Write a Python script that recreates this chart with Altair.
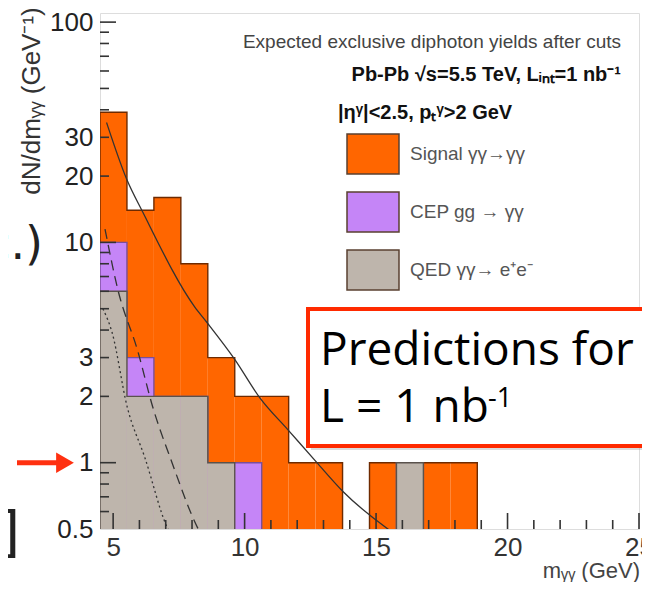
import altair as alt
import pandas as pd

# ---------------- data ----------------
edges = [4.5, 5.525, 6.55, 7.575, 8.6, 9.625, 10.65, 11.675, 12.7, 13.725,
         14.75, 15.775, 16.8, 17.825, 18.85]
signal = [29, 11, 14, 6, 2, 1, 2, 1, 1, 0, 1, 0, 1, 1]
cep = [4, 1, 0, 0, 0, 1, 0, 0, 0, 0, 0, 0, 0, 0]
qed = [6, 2, 2, 2, 1, 0, 0, 0, 0, 0, 0, 1, 0, 0]

solid_m = [4.75, 5.52, 6.13, 8.1, 8.57, 9.63, 10.58, 11.65, 12.75, 13.74, 15.45, 16.0]
solid_v = [35, 19.3, 13.7, 5.1, 4.33, 2.94, 1.97, 1.41, 1.0, 0.74, 0.5, 0.45]
dashed_m = [4.69, 5.18, 5.94, 6.5, 7.24, 8.2, 8.4]
dashed_v = [11.5, 6.1, 3.2, 1.8, 1.0, 0.51, 0.46]
dotted_m = [4.61, 4.96, 5.53, 6.2, 7.05, 7.2]
dotted_v = [5.0, 3.9, 1.8, 1.06, 0.51, 0.47]

x_labels = [5, 10, 15, 20, 25]
x_minor = [6, 7, 8, 9, 11, 12, 13, 14, 16, 17, 18, 19, 21, 22, 23, 24]
y_labels = [0.5, 1, 2, 3, 10, 20, 30, 100]
y_major = [1, 10, 100]
y_minor = [0.6, 0.7, 0.8, 0.9, 2, 3, 4, 5, 6, 7, 8, 9, 20, 30, 40, 50, 60, 70, 80, 90]

names = ["Signal γγ→γγ", "CEP gg → γγ", "QED γγ→ e⁺e⁻"]
fills = ["#ff6600", "#c585f7", "#beb5ac"]
outlines = ["#6e2a00", "#7a4f9a", "#5a524c"]

W, H = 539, 516
X0, X1 = 4.5, 25
Y0, Y1 = 0.5, 110
FLOOR = 0.3

h_qed = list(qed)
h_cep = [a + b for a, b in zip(qed, cep)]
h_tot = [a + b + c for a, b, c in zip(qed, cep, signal)]
hists = [h_tot, h_cep, h_qed]

xs = alt.Scale(domain=[X0, X1], nice=False, zero=False)
ys = alt.Scale(type="log", domain=[Y0, Y1], nice=False)
FONT = "Liberation Sans"

layers = []
for k, (h, name) in enumerate(zip(hists, names)):
    rows = [{"lo": edges[i], "hi": edges[i + 1], "top": v, "comp": name}
            for i, v in enumerate(h) if v > 0]
    rect = alt.Chart(pd.DataFrame(rows)).mark_rect(strokeWidth=0, clip=True).encode(
        x=alt.X("lo:Q", scale=xs, axis=alt.Axis(
            values=x_labels, format="d", ticks=False, domain=False, grid=False,
            labelFont=FONT, labelFontSize=26, labelColor="#333", labelPadding=5,
            labelFlush=False, title=None)),
        x2="hi:Q",
        y=alt.Y("top:Q", scale=ys, axis=alt.Axis(
            values=y_labels, format="~g", ticks=False, domain=False, grid=False,
            labelFont=FONT, labelFontSize=26, labelColor="#222", labelPadding=7,
            labelFlush=False, title=None)),
        y2=alt.value(H),
        color=alt.Color("comp:N", scale=alt.Scale(domain=names, range=fills),
                        legend=alt.Legend(
                            orient="none", legendX=246, legendY=114, title=None,
                            symbolType="M-1,-0.77H1V0.77H-1Z", symbolSize=2704,
                            symbolStrokeColor="#5a4030", symbolStrokeWidth=1.5,
                            symbolOpacity=1, labelFont=FONT, labelFontSize=19,
                            labelColor="#555", rowPadding=7, labelOffset=10,
                            padding=0)),
    )
    pts = [{"m": edges[0], "v": FLOOR}]
    for i, v in enumerate(h):
        vv = v if v > 0 else FLOOR
        pts.append({"m": edges[i], "v": vv})
        pts.append({"m": edges[i + 1], "v": vv})
    pts.append({"m": edges[-1], "v": FLOOR})
    odf = pd.DataFrame(pts)
    odf["i"] = range(len(odf))
    line = alt.Chart(odf).mark_line(color=outlines[k], strokeWidth=1.4, clip=True).encode(
        x=alt.X("m:Q", scale=xs), y=alt.Y("v:Q", scale=ys), order="i:Q")
    layers += [rect, line]

def curve(m, v, dash):
    df = pd.DataFrame({"m": m, "v": v})
    mk = dict(color="#333", strokeWidth=1.3, clip=True, interpolate="monotone")
    if dash:
        mk["strokeDash"] = dash
    return alt.Chart(df).mark_line(**mk).encode(
        x=alt.X("m:Q", scale=xs), y=alt.Y("v:Q", scale=ys))

layers += [curve(solid_m, solid_v, None), curve(dashed_m, dashed_v, [10, 6]),
           curve(dotted_m, dotted_v, [2, 3])]

# inside ticks (ROOT style) drawn as two-point segments; length in px -> data units
tick_rows = []
tid = 0
for vals, length_px in [(y_major, 16), (y_minor, 9)]:
    for v in vals:
        tick_rows.append({"id": tid, "tx": X0, "ty": v, "o": 0})
        tick_rows.append({"id": tid, "tx": X0 + length_px * (X1 - X0) / W, "ty": v, "o": 1})
        tid += 1
for vals, length_px in [(x_labels, 16), (x_minor, 9)]:
    for m in vals:
        tick_rows.append({"id": tid, "tx": m, "ty": Y0, "o": 0})
        tick_rows.append({"id": tid, "tx": m, "ty": Y0 * (Y1 / Y0) ** (length_px / H), "o": 1})
        tid += 1
ticks = alt.Chart(pd.DataFrame(tick_rows)).mark_line(
    color="#333333", strokeWidth=1.6, opacity=1, strokeCap="butt").encode(
    x=alt.X("tx:Q", scale=xs), y=alt.Y("ty:Q", scale=ys), detail="id:N", order="o:Q")

one = pd.DataFrame({"a": [0]})

def txt(text, x, y, size, color="#222", font=FONT, weight="normal", align="left", angle=0):
    return alt.Chart(one).mark_text(text=text, font=font, fontSize=size, color=color,
                                    fontWeight=weight, align=align, baseline="alphabetic",
                                    angle=angle).encode(x=alt.value(x), y=alt.value(y))

layers += [
    txt("Expected exclusive diphoton yields after cuts", 521, 35, 19, "#444", align="right"),
    txt("Pb-Pb  √s=5.5 TeV, Lᵢₙₜ=1 nb⁻¹", 521, 68, 20, "#111", weight="bold", align="right"),
    txt("|ηᵞ|<2.5, pₜᵞ>2 GeV", 238, 106, 20, "#111", weight="bold"),
    txt("mᵧᵧ (GeV)", 540, 565, 22, "#444", align="right"),
    txt("dN/dmᵧᵧ (GeV⁻¹)", -60, 88, 26, "#333", align="center", angle=270),
]

shadow = alt.Chart(one).mark_rect(fill="#999", opacity=0.35).encode(
    x=alt.value(211), x2=alt.value(563), y=alt.value(299), y2=alt.value(437))
box = alt.Chart(one).mark_rect(fill="white", stroke="#ff2a00", strokeWidth=4).encode(
    x=alt.value(208), x2=alt.value(560), y=alt.value(296), y2=alt.value(433))
layers += [shadow, box,
           txt("Predictions for", 220, 352, 46, "#000", font="Open Sans"),
           txt("L = 1 nb", 220, 409, 46, "#000", font="Open Sans"),
           txt("-1", 388, 394, 27, "#000", font="Open Sans"),
           txt("c.)", -57, 246, 46, "#222", font="DejaVu Sans", align="right"),
           txt("]", -80, 538, 56, "#222", font="DejaVu Sans", align="right")]

arrow_df = pd.DataFrame({"v": [1]})
arrow_shaft = alt.Chart(arrow_df).mark_rule(color="#ff3010", strokeWidth=5).encode(
    y=alt.Y("v:Q", scale=ys), x=alt.value(-83), x2=alt.value(-40))
arrow_head = alt.Chart(arrow_df).mark_point(shape="triangle-right", filled=True, color="#ff3010",
                                            size=420, opacity=1).encode(
    y=alt.Y("v:Q", scale=ys), x=alt.value(-35))
layers += [arrow_shaft, arrow_head, ticks]

chart = alt.layer(*layers).properties(
    width=W, height=H,
    autosize=alt.AutoSizeParams(type="none"),
    padding={"left": 92, "top": 5, "right": 3, "bottom": 53},
).configure_view(stroke="#8a8a8a", strokeWidth=2).configure(background="white")

chart.save("out.html", embed_options={"renderer": "svg", "actions": False})
